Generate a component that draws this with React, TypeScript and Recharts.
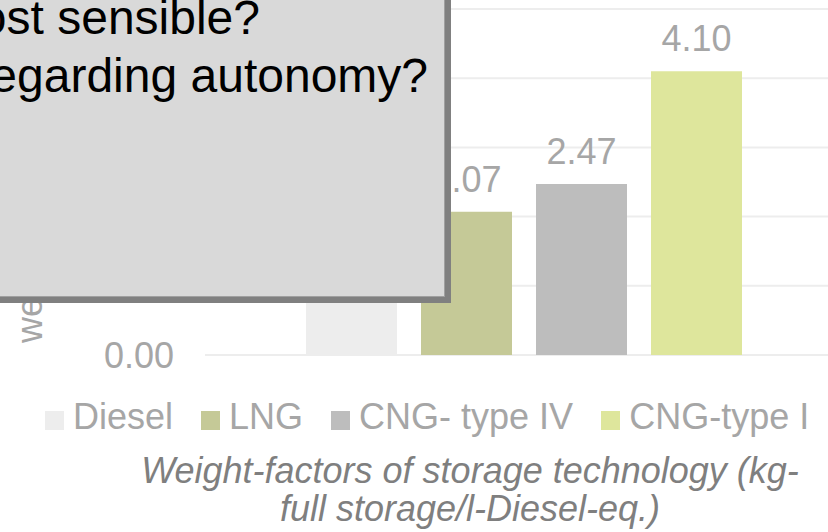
import React from "react";
import { BarChart, Bar, XAxis, YAxis, CartesianGrid, Legend, LabelList } from "recharts";

const seriesNames = ["Diesel", "LNG", "CNG- type IV", "CNG-type I"];
const seriesKeys = ["diesel", "lng", "cngIV", "cngI"];
const weightFactors = [1.19, 2.07, 2.47, 4.1];
const seriesColors = ["#ededed", "#c5c997", "#bdbdbd", "#dee69c"];
const yTicks = [0, 1, 2, 3, 4, 5];

const row: Record<string, string | number> = { category: "storage" };
seriesKeys.forEach((k, i) => {
  row[k] = weightFactors[i];
});
const data = [row];

const FONT = "'Liberation Sans', Arial, sans-serif";
const GREY = "#a6a6a6";

function LegendRow({ payload }: any) {
  return (
    <div style={{ display: "flex", alignItems: "center", gap: 28, fontSize: 36, lineHeight: "40px", color: GREY }}>
      {(payload || []).map((p: any) => (
        <div key={p.value} style={{ display: "flex", alignItems: "center" }}>
          <span style={{ width: 19, height: 19, background: p.color, marginRight: 9, marginTop: 6 }} />
          <span style={{ whiteSpace: "nowrap" }}>{p.value}</span>
        </div>
      ))}
    </div>
  );
}

export default function App() {
  return (
    <div
      style={{
        position: "fixed",
        left: 0,
        top: 0,
        width: 828,
        height: 532,
        overflow: "hidden",
        background: "#fff",
        fontFamily: FONT,
      }}
    >
      <BarChart
        width={860}
        height={532}
        data={data}
        margin={{ top: 9, right: 17, bottom: 177, left: 0 }}
        barSize={91}
        barGap={24}
      >
        <CartesianGrid vertical={false} stroke="#ededed" strokeWidth={2} />
        <XAxis dataKey="category" hide />
        <YAxis
          width={205}
          domain={[0, 5]}
          ticks={yTicks}
          tickFormatter={(v: number) => v.toFixed(2)}
          axisLine={false}
          tickLine={false}
          tickSize={0}
          tickMargin={31}
          tick={{ fill: GREY, fontSize: 36 }}
        />
        <Legend
          layout="horizontal"
          verticalAlign="middle"
          align="center"
          itemSorter={null}
          wrapperStyle={{ left: 45, top: 397, width: 820 }}
          content={<LegendRow />}
        />
        {seriesKeys.map((k, i) => (
          <Bar key={k} dataKey={k} name={seriesNames[i]} fill={seriesColors[i]} isAnimationActive={false}>
            <LabelList
              dataKey={k}
              position="top"
              offset={20}
              formatter={(v: any) => Number(v).toFixed(2)}
              fill={GREY}
              fontSize={36}
            />
          </Bar>
        ))}
      </BarChart>

      {/* rotated value-axis title, mostly covered by the callout */}
      <svg width={80} height={400} style={{ position: "absolute", left: 0, top: 0 }}>
        <text
          x={42}
          y={343}
          transform="rotate(-90 42 343)"
          fill={GREY}
          fontSize={36}
          fontFamily={FONT}
        >
          weight-factor
        </text>
      </svg>

      {/* category title under the legend */}
      <div
        style={{
          position: "absolute",
          left: 70,
          top: 452,
          width: 800,
          textAlign: "center",
          fontStyle: "italic",
          fontSize: 36,
          lineHeight: "38px",
          color: "#7f7f7f",
        }}
      >
        Weight-factors of storage technology (kg-
        <br />
        full storage/l-Diesel-eq.)
      </div>

      {/* question callout */}
      <div
        style={{
          position: "absolute",
          left: -20,
          top: -20,
          width: 465,
          height: 317,
          boxSizing: "border-box",
          background: "#d9d9d9",
          border: "1px solid #a0a0a0",
          boxShadow: "6px 6px 0 #808080",
          color: "#000",
          fontSize: 48,
          lineHeight: "48px",
        }}
      >
        <div style={{ position: "absolute", right: 184, top: 13, whiteSpace: "nowrap" }}>
          Which storage is most sensible?
        </div>
        <div style={{ position: "absolute", right: 16, top: 71, whiteSpace: "nowrap" }}>
          Which is best regarding autonomy?
        </div>
      </div>
    </div>
  );
}
